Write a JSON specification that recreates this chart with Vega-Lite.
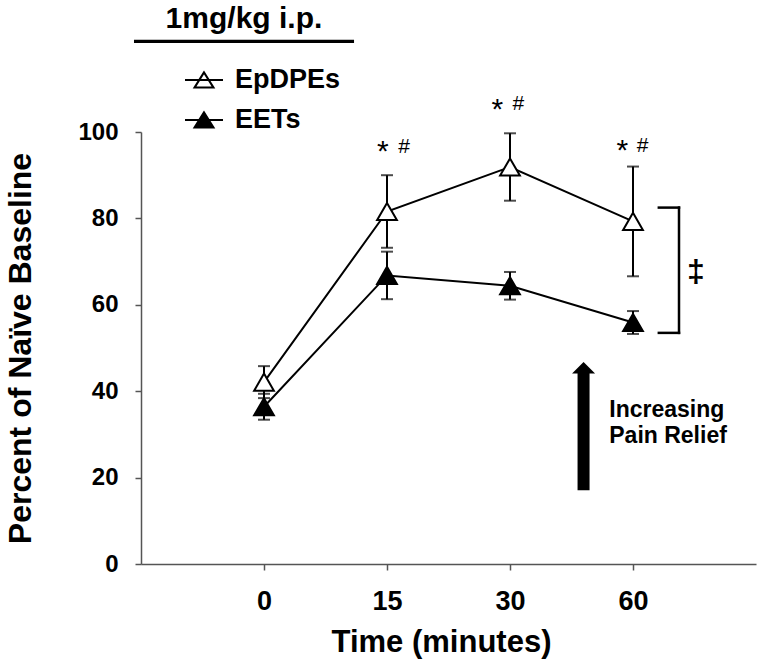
{
  "$schema": "https://vega.github.io/schema/vega-lite/v6.json",
  "width": 615,
  "height": 432,
  "autosize": {"type": "none"},
  "padding": {"left": 141, "top": 132, "right": 8, "bottom": 106},
  "background": "white",
  "config": {
    "view": {"stroke": null},
    "font": "Liberation Sans",
    "text": {"font": "Liberation Sans", "color": "black"}
  },
  "encoding": {
    "x": {
      "field": "x",
      "type": "quantitative",
      "scale": {"domain": [-1, 4], "nice": false, "zero": false},
      "title": "Time (minutes)",
      "axis": {
        "values": [0, 1, 2, 3],
        "labelExpr": "datum.value == 0 ? '0' : datum.value == 1 ? '15' : datum.value == 2 ? '30' : '60'",
        "grid": false,
        "domainColor": "#555555",
        "domainWidth": 1.5,
        "tickColor": "#555555",
        "tickWidth": 1.5,
        "tickSize": 6,
        "labelFont": "Liberation Sans",
        "labelFontSize": 27,
        "labelFontWeight": "bold",
        "labelColor": "black",
        "labelPadding": 18,
        "labelFlush": false,
        "labelOverlap": false,
        "titleFont": "Liberation Sans",
        "titleFontSize": 31,
        "titleFontWeight": "bold",
        "titleColor": "black",
        "titlePadding": 13,
        "titleX": 300
      }
    },
    "y": {
      "field": "y",
      "type": "quantitative",
      "scale": {"domain": [0, 100], "nice": false, "zero": true},
      "title": "Percent of Naïve Baseline",
      "axis": {
        "values": [0, 20, 40, 60, 80, 100],
        "grid": false,
        "domainColor": "#555555",
        "domainWidth": 1.5,
        "tickColor": "#555555",
        "tickWidth": 1.5,
        "tickSize": 6,
        "labelFont": "Liberation Sans",
        "labelFontSize": 24,
        "labelFontWeight": "bold",
        "labelColor": "black",
        "labelPadding": 17,
        "labelFlush": false,
        "labelOverlap": false,
        "titleFont": "Liberation Sans",
        "titleFontSize": 32,
        "titleFontWeight": "bold",
        "titleColor": "black",
        "titlePadding": 40
      }
    }
  },
  "layer": [
    {
      "data": {"values": [{"x": -1.057, "x2": 0.732, "y": 121.0}]},
      "mark": {"type": "rule", "color": "black", "strokeWidth": 3.3},
      "encoding": {"x2": {"field": "x2"}}
    },
    {
      "data": {"values": [{"x": -0.163, "y": 124.0, "t": "1mg/kg i.p."}]},
      "mark": {"type": "text", "font": "Liberation Sans", "fontSize": 30, "fontWeight": "bold", "align": "center", "baseline": "alphabetic", "color": "black"},
      "encoding": {"text": {"field": "t"}}
    },
    {
      "data": {"values": [
        {"x": 3.21, "x2": 3.374, "y": 82.5, "y2": 82.5},
        {"x": 3.374, "x2": 3.374, "y": 82.5, "y2": 53.5},
        {"x": 3.21, "x2": 3.374, "y": 53.5, "y2": 53.5}
      ]},
      "mark": {"type": "rule", "color": "black", "strokeWidth": 2.5, "strokeCap": "square"},
      "encoding": {"x2": {"field": "x2"}, "y2": {"field": "y2"}}
    },
    {
      "data": {"values": [{"x": 3.512, "y": 67.7, "t": "‡"}]},
      "mark": {"type": "text", "font": "Liberation Sans", "fontSize": 32, "fontWeight": "bold", "align": "center", "baseline": "middle", "color": "black"},
      "encoding": {"text": {"field": "t"}}
    },
    {
      "data": {"values": [{"x": 2.598, "y": 17.1, "y2": 44.6}]},
      "mark": {"type": "rule", "color": "black", "strokeWidth": 12},
      "encoding": {"y2": {"field": "y2"}}
    },
    {
      "data": {"values": [{"x": 2.598, "y": 45.4}]},
      "mark": {"type": "point", "shape": "M-1,0.5L0,-0.5L1,0.5Z", "size": 529, "filled": true, "color": "black", "opacity": 1, "strokeWidth": 0}
    },
    {
      "data": {"values": [
        {"x": 2.807, "y": 34.1, "t": "Increasing"},
        {"x": 2.807, "y": 27.9, "t": "Pain Relief"}
      ]},
      "mark": {"type": "text", "font": "Liberation Sans", "fontSize": 23, "fontWeight": "bold", "align": "left", "baseline": "alphabetic", "color": "black"},
      "encoding": {"text": {"field": "t"}}
    },
    {
      "data": {"values": [
        {"x": 0.967, "y": 96.5, "t": "*"},
        {"x": 1.897, "y": 106.3, "t": "*"},
        {"x": 2.913, "y": 96.8, "t": "*"}
      ]},
      "mark": {"type": "text", "font": "Liberation Sans", "fontSize": 30, "align": "center", "baseline": "middle", "dy": 5, "color": "black"},
      "encoding": {"text": {"field": "t"}}
    },
    {
      "data": {"values": [
        {"x": 1.138, "y": 96.8, "t": "#"},
        {"x": 2.067, "y": 106.6, "t": "#"},
        {"x": 3.079, "y": 97.1, "t": "#"}
      ]},
      "mark": {"type": "text", "font": "Liberation Sans", "fontSize": 21, "align": "center", "baseline": "middle", "dy": 1, "color": "black"},
      "encoding": {"text": {"field": "t"}}
    },
    {
      "data": {"values": [
        {"series": "EpDPEs", "time": "0", "x": 0, "y": 42.1, "sem": 3.7},
        {"series": "EpDPEs", "time": "15", "x": 1, "y": 81.6, "sem": 8.4},
        {"series": "EpDPEs", "time": "30", "x": 2, "y": 91.9, "sem": 7.8},
        {"series": "EpDPEs", "time": "60", "x": 3, "y": 79.3, "sem": 12.7},
        {"series": "EETs", "time": "0", "x": 0, "y": 36.4, "sem": 3.0},
        {"series": "EETs", "time": "15", "x": 1, "y": 66.8, "sem": 5.5},
        {"series": "EETs", "time": "30", "x": 2, "y": 64.4, "sem": 3.2},
        {"series": "EETs", "time": "60", "x": 3, "y": 55.9, "sem": 2.65}
      ]},
      "layer": [
        {
          "mark": {"type": "line", "color": "black", "strokeWidth": 2},
          "encoding": {"detail": {"field": "series", "type": "nominal"}}
        },
        {
          "mark": {
            "type": "errorbar",
            "color": "black",
            "ticks": {"size": 12, "thickness": 2, "color": "black"},
            "rule": {"strokeWidth": 2, "color": "black"}
          },
          "encoding": {
            "yError": {"field": "sem"},
            "detail": {"field": "series", "type": "nominal"}
          }
        },
        {
          "mark": {"type": "point", "shape": "triangle-up", "size": 390, "filled": true, "stroke": "black", "strokeWidth": 2, "opacity": 1, "fillOpacity": 1, "strokeOpacity": 1},
          "encoding": {
            "fill": {
              "field": "series",
              "type": "nominal",
              "scale": {"domain": ["EpDPEs", "EETs"], "range": ["white", "black"]},
              "legend": {
                "title": null,
                "orient": "none",
                "legendX": 43,
                "legendY": -72,
                "padding": 0,
                "symbolType": "M-1,0L1,0M0,-0.4L-0.5,0.4L0.5,0.4Z",
                "symbolSize": 1444,
                "symbolStrokeColor": "black",
                "symbolStrokeWidth": 2,
                "symbolOpacity": 1,
                "labelFont": "Liberation Sans",
                "labelFontSize": 27,
                "labelFontWeight": "bold",
                "labelColor": "black",
                "labelOffset": 11,
                "rowPadding": 7
              }
            }
          }
        }
      ]
    }
  ]
}
